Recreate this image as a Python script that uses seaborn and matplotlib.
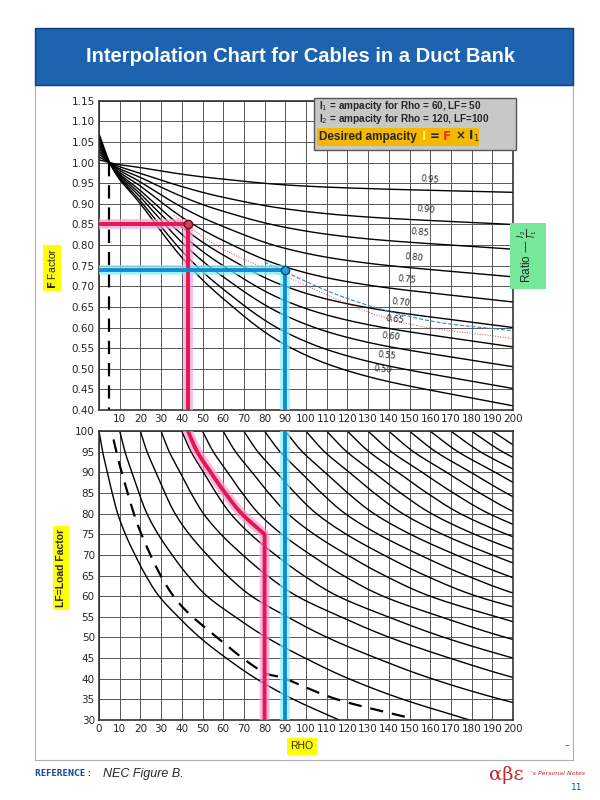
import numpy as np
import pandas as pd
import seaborn as sns
import matplotlib.pyplot as plt
from matplotlib.patches import Rectangle

# --- top chart: F factor vs rho, one curve per ratio I2/I1 ---
RHO_TOP = [0, 5, 10, 20, 40, 60, 90, 130, 200]
RATIOS = ["0.95", "0.90", "0.85", "0.80", "0.75", "0.70", "0.65", "0.60", "0.55", "0.50"]
F_CURVES = {
    "0.95": [1.007, 1.0, 0.995, 0.988, 0.972, 0.960, 0.946, 0.937, 0.928],
    "0.90": [1.014, 1.0, 0.990, 0.974, 0.942, 0.916, 0.888, 0.868, 0.850],
    "0.85": [1.021, 1.0, 0.985, 0.964, 0.918, 0.882, 0.843, 0.815, 0.790],
    "0.80": [1.028, 1.0, 0.981, 0.953, 0.892, 0.845, 0.792, 0.756, 0.723],
    "0.75": [1.035, 1.0, 0.976, 0.943, 0.868, 0.811, 0.747, 0.703, 0.662],
    "0.70": [1.042, 1.0, 0.972, 0.932, 0.844, 0.776, 0.700, 0.648, 0.600],
    "0.65": [1.049, 1.0, 0.969, 0.924, 0.826, 0.750, 0.665, 0.607, 0.553],
    "0.60": [1.056, 1.0, 0.965, 0.916, 0.807, 0.723, 0.629, 0.564, 0.505],
    "0.55": [1.063, 1.0, 0.962, 0.907, 0.786, 0.693, 0.589, 0.518, 0.452],
    "0.50": [1.070, 1.0, 0.959, 0.900, 0.770, 0.670, 0.558, 0.481, 0.410],
}
LABEL_RHO = [160, 158, 155, 152, 149, 146, 143, 141, 139, 137]

# interpolated example curves (dotted red, dashed blue)
RED_DOT_RHO = [36, 60, 90.5, 142, 200]
RED_DOT_F = [0.872, 0.790, 0.723, 0.618, 0.573]
BLUE_DASH_RHO = [80, 118, 158, 200]
BLUE_DASH_F = [0.758, 0.674, 0.618, 0.592]

# --- bottom chart: load factor curves ---
LF_LEVELS = [100, 95, 90, 85, 80, 75, 70, 65, 60, 55, 50, 45, 40, 35, 30]
LF_SHAPE = [0, 0.015, 0.035, 0.055, 0.078, 0.11, 0.15, 0.195, 0.25, 0.33, 0.42, 0.53, 0.655, 0.81, 1.0]
CURVE_STARTS = list(range(0, 200, 10))
CURVE_SPANS = [116, 169, 215, 263, 302, 349, 400, 450, 500, 550,
               600, 650, 700, 750, 800, 850, 900, 950, 1000, 1050]
DASHED_LF = [98, 90, 75, 60, 50, 42, 40, 35, 30.5]
DASHED_RHO = [7, 11, 20.5, 36, 57, 78, 90, 115, 150]

RED_PATH_LF = [100, 95, 90, 85, 80, 75]
RED_PATH_RHO = [43, 47.5, 54, 61, 69, 80]


def smooth(x, y, n=20):
    # Catmull-Rom densify for drawing only
    x = np.asarray(x, float); y = np.asarray(y, float)
    if len(x) < 3:
        return x, y
    px = np.r_[2 * x[0] - x[1], x, 2 * x[-1] - x[-2]]
    py = np.r_[2 * y[0] - y[1], y, 2 * y[-1] - y[-2]]
    t = np.linspace(0, 1, n)[:, None]
    ox, oy = [], []
    for i in range(1, len(px) - 2):
        for p, o in ((px, ox), (py, oy)):
            p0, p1, p2, p3 = p[i - 1], p[i], p[i + 1], p[i + 2]
            seg = 0.5 * (2 * p1 + (-p0 + p2) * t + (2 * p0 - 5 * p1 + 4 * p2 - p3) * t ** 2
                         + (-p0 + 3 * p1 - 3 * p2 + p3) * t ** 3)
            o.extend(seg.ravel())
    return np.array(ox), np.array(oy)


sns.set_style("white")
fig = plt.figure(figsize=(6, 8), dpi=100)
fig.patch.set_facecolor("white")

# page frame and title banner
fig.add_artist(Rectangle((0.058, 0.05), 0.897, 0.844, transform=fig.transFigure,
                         fill=False, ec="#b0b0b0", lw=0.8))
fig.add_artist(Rectangle((0.058, 0.894), 0.897, 0.071, transform=fig.transFigure,
                         fc="#1e63b0", ec="#0d3f78", lw=1))
fig.text(0.5, 0.93, "Interpolation Chart for Cables in a Duct Bank", color="white",
         fontsize=14.5, fontweight="bold", ha="center", va="center", family="Liberation Sans")

ax1 = fig.add_axes([0.165, 0.4875, 0.69, 0.3865])
ax2 = fig.add_axes([0.165, 0.10, 0.69, 0.361])

grid_kw = dict(color="#555555", lw=0.7)
for ax in (ax1, ax2):
    ax.set_xlim(0, 200)
    ax.set_xticks(range(0, 201, 10))
    ax.grid(True, **grid_kw)
    ax.tick_params(length=0, labelsize=7.5, pad=3)
    for s in ax.spines.values():
        s.set_color("#333333"); s.set_linewidth(1.2)

ax1.set_ylim(0.40, 1.15)
ax1.set_yticks(np.arange(0.40, 1.151, 0.05))
ax1.set_yticklabels([f"{v:.2f}" for v in np.arange(0.40, 1.151, 0.05)])
ax1.set_xticklabels([""] + [str(v) for v in range(10, 201, 10)])
ax2.set_ylim(30, 100)
ax2.set_yticks(range(30, 101, 5))

# top family
for r, lx in zip(RATIOS, LABEL_RHO):
    sx, sy = smooth(RHO_TOP[1:], F_CURVES[r][1:])
    sx = np.r_[RHO_TOP[0], sx]; sy = np.r_[F_CURVES[r][0], sy]
    sns.lineplot(x=sx, y=sy, ax=ax1, color="black", lw=1.0, sort=False, estimator=None)
    ly = np.interp(lx, sx, sy)
    ax1.text(lx, ly + 0.012, r, fontsize=6, rotation=-6, ha="center", va="bottom", color="#222222")

ax1.plot([5, 5], [1.0, 0.40], color="black", lw=1.6, ls=(0, (6, 4)))
sx, sy = smooth(RED_DOT_RHO, RED_DOT_F)
ax1.plot(sx, sy, color="#e04040", lw=0.7, ls=":")
sx, sy = smooth(BLUE_DASH_RHO, BLUE_DASH_F)
ax1.plot(sx, sy, color="#3a7fd0", lw=0.8, ls="--")

# highlighted construction lines
glow_red, red = "#ff9ad8", "#e0194f"
glow_blue, blue = "#7ff0ff", "#1589d0"
for xs, ys, g, c in [
    ([0, 43], [0.85, 0.85], glow_red, red),
    ([43, 43], [0.85, 0.40], glow_red, red),
    ([0, 90], [0.74, 0.74], glow_blue, blue),
    ([90, 90], [0.74, 0.40], glow_blue, blue),
]:
    ax1.plot(xs, ys, color=g, lw=7, alpha=0.7, solid_capstyle="butt", zorder=4)
    ax1.plot(xs, ys, color=c, lw=2.8, solid_capstyle="butt", zorder=5)
ax1.plot([43], [0.85], "o", ms=6, mfc="#d0405a", mec="#6a0a20", zorder=6)
ax1.plot([90], [0.74], "o", ms=6, mfc="#2a9fe0", mec="#0a4a70", zorder=6)

# legend box
fig.add_artist(Rectangle((0.523, 0.812), 0.337, 0.066, transform=fig.transFigure,
                         fc="#c8c8c8", ec="#555555", lw=1, zorder=10))
fig.text(0.531, 0.867, r"I$_1$ = ampacity for Rho = 60, LF= 50", fontsize=7.2,
         fontweight="bold", va="center", zorder=11, family="Liberation Sans")
fig.text(0.531, 0.851, r"I$_2$ = ampacity for Rho = 120, LF=100", fontsize=7.2,
         fontweight="bold", va="center", zorder=11, family="Liberation Sans")
fig.add_artist(Rectangle((0.528, 0.818), 0.27, 0.022, transform=fig.transFigure,
                         fc="#f5b800", ec="none", zorder=10.5))
fig.text(0.531, 0.829, "Desired ampacity", fontsize=8.5, fontweight="bold", va="center",
         zorder=11, family="Liberation Sans")
fig.text(0.703, 0.829, "I", fontsize=8.5, fontweight="bold", va="center", color="#ffff40", zorder=11)
fig.text(0.716, 0.829, "=", fontsize=8.5, fontweight="bold", va="center", zorder=11)
fig.text(0.738, 0.829, "F", fontsize=8.5, fontweight="bold", va="center", color="#ff2a00", zorder=11)
fig.text(0.758, 0.829, r"× I$_1$", fontsize=8.5, fontweight="bold", va="center", zorder=11)

# bottom family
lf = np.array(LF_LEVELS, float)
u = np.array(LF_SHAPE)
for c, span in zip(CURVE_STARTS, CURVE_SPANS):
    rho = c + span * u
    sx, sy = smooth(rho, lf)
    sns.lineplot(x=sx, y=sy, ax=ax2, color="black", lw=1.0, sort=False, estimator=None)
sx, sy = smooth(DASHED_RHO, DASHED_LF)
ax2.plot(sx, sy, color="black", lw=1.6, ls=(0, (6, 4)))

sx, sy = smooth(RED_PATH_RHO, RED_PATH_LF)
sx = np.r_[sx, 80]; sy = np.r_[sy, 30]
ax2.plot(sx, sy, color=glow_red, lw=7, alpha=0.7, zorder=4)
ax2.plot(sx, sy, color=red, lw=2.8, zorder=5)
ax2.plot([90, 90], [30, 100], color=glow_blue, lw=7, alpha=0.7, solid_capstyle="butt", zorder=4)
ax2.plot([90, 90], [30, 100], color=blue, lw=2.8, solid_capstyle="butt", zorder=5)

# side labels
fig.text(0.087, 0.665, r"$\bf{F}$ Factor", rotation=90, fontsize=7.5, ha="center", va="center",
         bbox=dict(fc="#ffff00", ec="none", pad=2), family="Liberation Sans")
fig.text(0.102, 0.29, "LF=Load Factor", rotation=90, fontsize=7.5, fontweight="bold",
         ha="center", va="center", bbox=dict(fc="#ffff00", ec="none", pad=2), family="Liberation Sans")
fig.text(0.88, 0.68, r"Ratio — $\frac{I_2}{I_1}$", rotation=90, fontsize=8.5, ha="center",
         va="center", bbox=dict(fc="#77e89a", ec="none", pad=4), family="Liberation Sans")
fig.text(0.503, 0.067, "RHO", fontsize=7.5, ha="center", va="center",
         bbox=dict(fc="#ffff00", ec="none", pad=2.5), family="Liberation Sans")

# footer
fig.text(0.058, 0.033, "REFERENCE :", fontsize=5.5, fontweight="bold", color="#1e4c9a", va="center")
fig.text(0.172, 0.033, "NEC Figure B.", fontsize=9, style="italic", va="center", family="Liberation Sans")
fig.text(0.945, 0.065, "–", fontsize=7, color="#d02020", ha="center")
fig.text(0.815, 0.031, "αβε", fontsize=14, color="#c0282a", va="center", family="DejaVu Serif")
fig.text(0.885, 0.033, "'s Personal Notes", fontsize=4.5, color="#c0282a", style="italic", va="center")
fig.text(0.962, 0.012, "11", fontsize=6.5, color="#1e4c9a", ha="center")

fig.savefig("out.png", dpi=100)
